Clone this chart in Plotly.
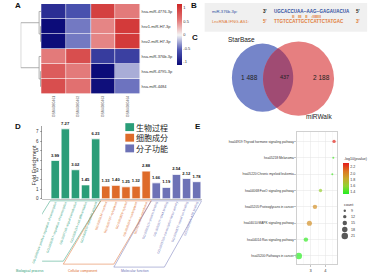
import numpy as np
import plotly.graph_objects as go

W, H = 373, 280
def px(x): return x / W
def py(y): return 1 - y / H

FONT = "Liberation Sans"
CJK = "Noto Sans CJK SC"

# ---------------- Panel A: heatmap ----------------
mirnas = ["hsa-miR-4776-3p", "hsv1-miR-H7-3p", "hsv2-miR-H7-3p",
          "hsa-miR-376b-3p", "hsa-miR-4795-3p", "hsa-miR-4484"]
samples = ["GSM4080461", "GSM4080462", "GSM4080463", "GSM4080464"]
zscores = [[-0.85, -0.60, 0.95, 0.55],
           [-1.10, -0.43, 0.50, 1.00],
           [-1.10, -0.43, 0.50, 1.00],
           [0.55, 0.85, -0.75, -0.72],
           [0.75, 0.55, -1.10, -0.25],
           [0.85, 0.60, -1.08, -0.45]]
# row clustering (left child, right child, height); leaves 0..5, merges numbered 6..
linkage = [(1, 2, 0.03), (4, 5, 0.03), (0, 6, 0.10), (3, 7, 0.10), (8, 9, 1.00)]
z_ticks = [1, 0.5, 0, -0.5, -1]

# ---------------- Panel B: binding site ----------------
mir_name = "miR-376b-3p:"
mir_seq = "UGCACCUAA--AAG--GAGAUACUA"
pairing = "II\u00a0\u00a0\u00a0III\u00a0\u00a0\u00a0II\u00a0\u00a0\u00a0:IIIIIII"
lnc_name = "LncRNA IFNG-AS1:"
lnc_seq = "TTGTCCATTGCTCATTCTATGAC"

# ---------------- Panel C: Venn ----------------
venn_sets = ["StarBase", "miRWalk"]
venn_counts = ["1 488", "437", "2 188"]

# ---------------- Panel D: GO enrichment ----------------
group_cn = ["生物过程", "细胞成分", "分子功能"]
group_en = ["Biological process", "Cellular component", "Molecular function"]
group_colors = ["#2b9d78", "#de6b2a", "#6d72b6"]
bp_terms = ["GO:0045944~positive regulation of transcription",
            "GO:0006357~regulation of transcription",
            "GO:0007165~signal transduction",
            "GO:0030154~cell differentiation",
            "GO:0006915~apoptotic process"]
bp_fold = [3.99, 7.27, 3.02, 1.45, 6.23]
cc_terms = ["GO:0005634~nucleus", "GO:0005737~cytoplasm", "GO:0005829~cytosol",
            "GO:0005654~nucleoplasm", "GO:0016020~membrane"]
cc_fold = [1.33, 1.40, 1.25, 1.32, 2.88]
mf_terms = ["GO:0005515~protein binding", "GO:0003677~DNA binding",
            "GO:0003700~transcription factor activity",
            "GO:0046872~metal ion binding", "GO:0005524~ATP binding"]
mf_fold = [1.66, 1.19, 2.54, 2.12, 1.78]
fold_ticks = [0, 1, 2, 3, 4, 5, 6, 7]

# ---------------- Panel E: KEGG dot plot ----------------
pathways = ["hsa04919:Thyroid hormone signaling pathway", "hsa05218:Melanoma",
            "hsa05220:Chronic myeloid leukemia", "hsa04068:FoxO signaling pathway",
            "hsa05205:Proteoglycans in cancer", "hsa04010:MAPK signaling pathway",
            "hsa04014:Ras signaling pathway", "hsa05200:Pathways in cancer"]
path_x = [4.60, 4.55, 4.48, 3.67, 3.29, 2.91, 2.67, 2.18]
path_logp = [2.30, 1.42, 1.42, 1.62, 1.95, 1.95, 1.38, 1.36]
path_count = [12, 8, 8, 12, 15, 17, 15, 21]
count_breaks = [9, 12, 15, 18, 21]
logp_ticks = [1.4, 1.6, 1.8, 2.0, 2.2]

def count_px(c):
    return 2.0 + (c - 8) * 4.5 / 13.0

fig = go.Figure()
annotations = []
shapes = []

def ann(x, y, text, size=5, color="#222", xa="center", ya="middle", family=FONT, angle=0):
    annotations.append(dict(x=px(x), y=py(y), xref="paper", yref="paper", text=text,
                            showarrow=False, xanchor=xa, yanchor=ya, textangle=angle,
                            borderpad=0, font=dict(size=size, color=color, family=family)))

# ---- A ----
fig.add_trace(go.Heatmap(
    z=zscores, x=list(range(len(samples))), y=list(range(len(mirnas))),
    colorscale=[[0, "#0b0b78"], [0.25, "#5058b4"], [0.49, "#f4f4f4"], [0.75, "#e27272"], [1, "#cd2626"]],
    zmin=-1.11, zmax=1.15, xgap=0.6, ygap=0.6, xaxis="x", yaxis="y",
    colorbar=dict(x=px(172), xanchor="left", y=py(34.5), yanchor="middle", len=61, lenmode="pixels",
                  thickness=5, thicknessmode="pixels", tickvals=z_ticks, ticktext=[str(v) for v in z_ticks],
                  tickfont=dict(size=4, color="#333"), ticks="", outlinewidth=0, xpad=0, ypad=0)))

pos = {i: float(i) for i in range(len(mirnas))}
hgt = {i: 0.0 for i in range(len(mirnas))}
dxs, dys = [], []
for k, (a, b, h) in enumerate(linkage):
    nid = len(mirnas) + k
    dxs += [hgt[a], h, h, hgt[b], None]
    dys += [pos[a], pos[a], pos[b], pos[b], None]
    pos[nid] = (pos[a] + pos[b]) / 2
    hgt[nid] = h
fig.add_trace(go.Scatter(x=dxs, y=dys, mode="lines", line=dict(color="#9a9a9a", width=0.8),
                         xaxis="x2", yaxis="y2", cliponaxis=False, hoverinfo="skip"))

# ---- D ----
all_terms = [bp_terms, cc_terms, mf_terms]
all_fold = [bp_fold, cc_fold, mf_fold]
ticktext = []
start = 0
for g, (terms, folds) in enumerate(zip(all_terms, all_fold)):
    xs = list(range(start, start + len(folds)))
    fig.add_trace(go.Bar(x=xs, y=folds, width=0.84, marker=dict(color=group_colors[g], line=dict(color="white", width=0.8)),
                         texttemplate="<b>%{y:.2f}</b>", textposition="outside", cliponaxis=False,
                         textfont=dict(size=4.6, color="#111", family=FONT), xaxis="x3", yaxis="y3"))
    for t in terms:
        ticktext.append(f'<span style="color:{group_colors[g]}">{t}</span>')
    x0, x1 = start - 0.5, start + len(folds) - 0.5
    shift = 3.7
    ybot = 264 + 3 * g
    shapes.append(dict(type="path", xref="x3", yref="paper",
                       path=f"M{x0},{py(203)} L{x1},{py(203)} L{x1 - shift},{py(ybot)} L{x0 - shift},{py(ybot)} Z",
                       line=dict(color=group_colors[g], width=0.5), fillcolor="rgba(0,0,0,0)"))
    start += len(folds)
n_bars = start

ann(21, 274, group_en[0], 3.4, group_colors[0])
ann(75, 274, group_en[1], 3.4, group_colors[1])
ann(128, 274, group_en[2], 3.4, group_colors[2])
ann(25, 167, "Fold Enrichment", 5.5, "#333", angle=-90)

for g in range(3):
    yc = [128.5, 139.2, 150][g]
    shapes.append(dict(type="rect", xref="paper", yref="paper", x0=px(118.5), x1=px(127.5),
                       y0=py(yc + 4), y1=py(yc - 4), fillcolor=group_colors[g], line=dict(width=0)))
    ann(128.5, yc, group_cn[g], 8, "#222", xa="left", family=CJK)

# ---- E ----
fig.add_trace(go.Scatter(
    x=path_x, y=pathways, mode="markers", xaxis="x4", yaxis="y4", cliponaxis=False,
    marker=dict(color=path_logp, colorscale=[[0, "#22ee22"], [0.25, "#8fd432"], [0.5, "#c9a82a"],
                                             [0.72, "#dc7a22"], [1, "#e41c1c"]],
                cmin=1.34, cmax=2.33, size=[count_px(c) for c in path_count], line=dict(width=0),
                colorbar=dict(x=px(342), xanchor="left", y=py(180.5), yanchor="middle", len=31, lenmode="pixels",
                              thickness=6, thicknessmode="pixels", tickvals=logp_ticks,
                              ticktext=[f"{v:.1f}" for v in logp_ticks], tickfont=dict(size=3.6, color="#333"),
                              ticks="", outlinewidth=0, xpad=0, ypad=0))))
ann(342, 161, "-log10(pvalue)", 3.6, "#333", xa="left")
ann(342, 207, "count", 3.8, "#333", xa="left")
leg_y = [213, 219, 225.5, 232, 238.5]
fig.add_trace(go.Scatter(x=[344] * len(count_breaks), y=leg_y, mode="markers", xaxis="x5", yaxis="y5",
                         marker=dict(color="#111", size=[count_px(c) for c in count_breaks], line=dict(width=0)),
                         hoverinfo="skip", cliponaxis=False))
for c, yy in zip(count_breaks, leg_y):
    ann(349, yy, str(c), 3.6, "#333", xa="left")

# ---- B ----
shapes.append(dict(type="rect", xref="paper", yref="paper", x0=px(200), x1=px(367), y0=py(32), y1=py(3),
                   fillcolor="#f0f0f0", line=dict(width=0), layer="below"))
blue, orange = "#2f4f9f", "#e07b39"
ann(207, 12, mir_name, 4.2, blue, xa="left")
ann(262, 12, "<b>3'</b>", 4.6, "#222")
ann(270, 12, f"<b>{mir_seq}</b>", 4.5, blue, xa="left")
ann(358, 12, "<b>5'</b>", 4.6, "#222")
ann(305, 17, f"<b>{pairing}</b>", 4.3, orange)
ann(207, 22, lnc_name, 4.2, orange, xa="left")
ann(262, 22, "<b>5'</b>", 4.6, orange)
ann(270, 22, f"<b>{lnc_seq}</b>", 4.5, orange, xa="left")
ann(358, 22, "<b>3'</b>", 4.6, orange)

# ---- C ----
EA = (259.5, 78.5, 31.5, 34.5)
EB = (296.5, 79.5, 36.5, 37.5)
def ell(cx, cy, rx, ry, n=240):
    t = np.linspace(0, 2 * np.pi, n, endpoint=False)
    return np.c_[cx + rx * np.cos(t), cy + ry * np.sin(t)]
def inside(p, e):
    cx, cy, rx, ry = e
    return ((p[:, 0] - cx) / rx) ** 2 + ((p[:, 1] - cy) / ry) ** 2 <= 1
for e, col in [(EA, "#7585c9"), (EB, "#e67f80")]:
    cx, cy, rx, ry = e
    shapes.append(dict(type="circle", xref="paper", yref="paper", x0=px(cx - rx), x1=px(cx + rx),
                       y0=py(cy + ry), y1=py(cy - ry), fillcolor=col, line=dict(width=0)))
pa, pb = ell(*EA), ell(*EB)
lens = np.vstack([pa[inside(pa, EB)], pb[inside(pb, EA)]])
cen = lens.mean(0)
lens = lens[np.argsort(np.arctan2(lens[:, 1] - cen[1], lens[:, 0] - cen[0]))]
shapes.append(dict(type="path", xref="paper", yref="paper", fillcolor="#a04b73", line=dict(width=0),
                   path="M" + " L".join(f"{px(x):.5f},{py(y):.5f}" for x, y in lens) + " Z"))
ann(238, 40, venn_sets[0], 6.5, "#222")
ann(318, 118, venn_sets[1], 6.5, "#222")
ann(246, 78, venn_counts[0], 6.5, "#222")
ann(282, 78, venn_counts[1], 5.5, "#222")
ann(320, 78, venn_counts[2], 6.5, "#222")

for lab, x, y in [("A", 8, 6), ("B", 189, 6), ("C", 190, 38), ("D", 8, 128), ("E", 193, 128)]:
    ann(x, y, f"<b>{lab}</b>", 8, "#111")

noax = dict(visible=False, showgrid=False, zeroline=False)
fig.update_layout(
    width=W, height=H, margin=dict(l=0, r=0, t=0, b=0), paper_bgcolor="white", plot_bgcolor="rgba(0,0,0,0)",
    showlegend=False, hovermode=False, font=dict(family=FONT, size=5, color="#222"),
    xaxis=dict(domain=[px(32), px(134)], range=[-0.5, 3.5], tickvals=list(range(len(samples))), ticktext=samples,
               tickangle=-90, tickfont=dict(size=3.5, color="#555"), showgrid=False, zeroline=False, ticks="",
               anchor="y"),
    yaxis=dict(domain=[py(95), py(4)], range=[5.5, -0.5], tickvals=list(range(len(mirnas))), ticktext=mirnas,
               side="right", tickfont=dict(size=4, color="#333"), showgrid=False, zeroline=False, ticks="",
               anchor="x"),
    xaxis2=dict(domain=[px(11), px(32)], range=[max(h for _, _, h in linkage), 0], anchor="y2", **noax),
    yaxis2=dict(domain=[py(95), py(4)], range=[5.5, -0.5], anchor="x2", **noax),
    xaxis3=dict(domain=[px(33), px(197)], range=[-1.3, n_bars - 0.5], tickvals=list(range(n_bars)),
                ticktext=ticktext, tickangle=-70, tickfont=dict(size=3.1), showline=True, linecolor="#999",
                linewidth=0.6, ticks="", showgrid=False, zeroline=False, anchor="y3"),
    yaxis3=dict(domain=[py(201), py(127)], range=[0, 7.6], tickvals=fold_ticks, ticks="outside", ticklen=2,
                tickwidth=0.5, tickcolor="#666", showline=True, linecolor="#666", linewidth=0.6,
                tickfont=dict(size=4.5, color="#333"), showgrid=False, zeroline=False, anchor="x3"),
    xaxis4=dict(domain=[px(295), px(336)], range=[2.067, 4.8], tickvals=[3, 4], ticks="outside", ticklen=2,
                tickwidth=0.5, tickcolor="#888", showline=True, mirror=True, linecolor="#b0b0b0", linewidth=0.6,
                gridcolor="#e4e4e4", gridwidth=0.5, zeroline=False, tickfont=dict(size=4, color="#333"),
                minor=dict(tickmode="linear", tick0=2.5, dtick=1, showgrid=True, gridcolor="#f1f1f1",
                           gridwidth=0.4, ticks=""),
                anchor="y4"),
    yaxis4=dict(domain=[py(267), py(133)], type="category", categoryorder="array",
                categoryarray=pathways[::-1], range=[-0.5, 7.6], ticks="outside", ticklen=2, tickwidth=0.5,
                tickcolor="#888", showline=True, mirror=True, linecolor="#b0b0b0", linewidth=0.6,
                gridcolor="#e4e4e4", gridwidth=0.5, tickfont=dict(size=3.2, color="#333"), anchor="x4"),
    xaxis5=dict(domain=[0, 1], range=[0, W], anchor="y5", **noax),
    yaxis5=dict(domain=[0, 1], range=[H, 0], anchor="x5", **noax),
    annotations=annotations, shapes=shapes,
)
fig.write_html("out.html", config={"displayModeBar": False, "staticPlot": True},
               post_script="document.body.style.margin='0';document.body.style.padding='0';")
